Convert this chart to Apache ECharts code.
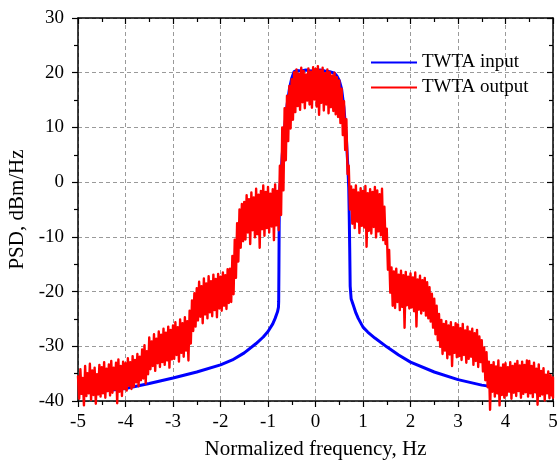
<!DOCTYPE html>
<html>
<head>
<meta charset="utf-8">
<script src="https://cdn.jsdelivr.net/npm/echarts@6/dist/echarts.min.js"></script>
<style>
html,body{margin:0;padding:0;background:#fff;}
#chart{width:558px;height:462px;}
</style>
</head>
<body>
<div id="chart"></div>
<script>
// x tick labels and y tick labels come from axis min/max/interval
const xTicks = [-5, -4, -3, -2, -1, 0, 1, 2, 3, 4, 5];
const yTicks = [-40, -30, -20, -10, 0, 10, 20, 30];

// TWTA input (blue) : frequency (Hz) and PSD (dBm/Hz)
const blueFreq = [-5, -4.5, -4, -3.5, -3, -2.5, -2, -1.75, -1.5, -1.25, -1.1, -1, -0.9, -0.85, -0.8, -0.78, -0.775, -0.77, -0.765, -0.76, -0.75, -0.72, -0.7, -0.65, -0.6, -0.55, -0.5, -0.45, -0.4, -0.3, -0.2, -0.1, 0, 0.1, 0.2, 0.3, 0.4, 0.45, 0.5, 0.55, 0.6, 0.65, 0.68, 0.7, 0.71, 0.72, 0.73, 0.75, 0.8, 0.85, 0.9, 1.0, 1.1, 1.25, 1.5, 1.75, 2, 2.5, 3, 3.5, 4, 4.5, 5];
const bluePSD  = [-38.6, -38.2, -37.7, -36.8, -35.8, -34.7, -33.4, -32.5, -31.2, -29.5, -28.3, -27.3, -25.9, -24.9, -23.7, -22.9, -21.8, -16, -8, -4, -1, 2, 5, 10, 14, 17, 19, 20.2, 20.4, 20.3, 20.5, 20.3, 20.4, 20.5, 20.3, 20.2, 19.9, 19.4, 18.6, 17.0, 13.5, 8.0, 3.0, -1.0, -6, -12, -19, -21.3, -22.6, -23.9, -24.9, -26.5, -27.4, -28.5, -30.1, -31.6, -32.9, -34.7, -36.1, -37.1, -37.7, -38.2, -38.5];

// TWTA output (red): noisy band, upper and lower readings every 0.05 Hz from -5 to 5
const redStart = -5;
const redStep = 0.05;
const redHigh = [
 -35.5,-34.2,-35.8,-33.6,-34.9,-33.2,-34.4,-33.9,-35.1,-33.4,
 -33.8,-32.9,-34.1,-33.3,-32.7,-33.9,-33.0,-32.4,-33.6,-32.8,
 -33.1,-32.2,-32.9,-31.8,-32.5,-31.4,-31.9,-30.6,-29.8,-30.9,
 -28.4,-29.1,-27.8,-28.6,-27.3,-27.9,-26.8,-27.5,-26.4,-27.0,
 -26.2,-25.6,-26.5,-25.1,-25.8,-24.7,-25.4,-23.5,-21.6,-20.3,
 -19.4,-18.2,-19.0,-17.6,-18.5,-17.2,-18.1,-16.9,-17.7,-16.8,
 -17.3,-16.5,-17.0,-15.9,-15.8,-13.5,-10.5,-7.5,-5.0,-4.0,
 -3.6,-2.4,-3.1,-1.9,-2.8,-1.2,-2.3,-1.6,-0.6,-1.8,
 -0.9,-2.1,-1.3,-0.4,-1.6,3.0,10.0,13.5,15.8,17.6,
 18.8,20.1,20.6,19.8,20.9,20.3,19.7,20.8,20.2,21.0,
 20.7,21.2,20.4,20.9,19.9,20.6,20.1,19.5,20.0,19.2,
 18.6,17.1,14.8,11.5,3.0,-0.8,-1.4,-0.6,-1.9,-1.1,
 -1.6,-0.7,-2.0,-1.3,-1.8,-0.9,-1.5,-2.2,-1.2,-4.5,
 -8.5,-12.4,-15.6,-16.3,-15.8,-16.9,-16.2,-17.0,-16.4,-17.3,
 -16.7,-17.4,-16.5,-17.8,-17.1,-17.9,-17.5,-18.3,-19.2,-20.4,
 -21.3,-22.6,-24.1,-25.2,-25.9,-25.4,-26.2,-25.6,-26.5,-25.8,
 -26.0,-26.7,-25.9,-27.1,-26.4,-27.3,-26.8,-27.6,-27.0,-28.2,
 -28.9,-30.2,-31.1,-32.8,-33.4,-32.9,-33.7,-32.6,-33.9,-33.3,
 -33.1,-33.8,-32.9,-33.6,-33.2,-32.7,-33.5,-32.8,-33.4,-32.6,
 -32.7,-33.6,-33.0,-34.1,-33.3,-34.5,-34.0,-35.2,-34.6,-35.3,
 -35.7
];
const redLow = [
 -39.6,-38.7,-40.8,-39.1,-38.6,-39.8,-38.9,-40.5,-38.8,-39.2,
 -38.6,-39.4,-38.2,-39.0,-38.5,-37.9,-40.4,-38.3,-39.1,-37.8,
 -38.1,-37.2,-37.8,-37.4,-36.6,-37.3,-36.2,-35.9,-36.8,-35.1,
 -34.2,-33.6,-34.5,-33.1,-33.8,-32.9,-33.4,-32.6,-33.9,-32.4,
 -32.3,-31.6,-32.8,-31.2,-31.9,-30.8,-32.6,-29.5,-27.2,-26.4,
 -25.3,-24.6,-25.8,-24.2,-24.9,-23.8,-24.5,-23.4,-24.7,-23.1,
 -23.5,-22.6,-23.2,-22.1,-21.9,-20.5,-17.5,-14.5,-12.0,-10.8,
 -10.5,-9.2,-11.3,-8.8,-10.1,-9.5,-12.0,-8.6,-9.8,-8.4,
 -9.2,-8.1,-10.6,-7.9,-8.8,-6.0,-1.5,4.0,7.5,9.8,
 11.4,12.8,13.9,13.2,14.6,13.5,14.9,14.2,13.6,15.1,
 13.8,12.3,14.5,13.1,14.2,12.6,13.7,13.0,12.4,11.9,
 10.8,8.6,5.9,1.5,-5.0,-7.6,-8.4,-7.2,-9.3,-8.0,
 -8.3,-11.8,-8.9,-9.4,-8.2,-10.1,-9.0,-9.7,-10.6,-11.3,
 -16.0,-20.2,-22.6,-23.0,-21.9,-23.4,-22.8,-26.6,-22.5,-23.1,
 -22.9,-23.6,-26.4,-23.3,-24.0,-23.5,-24.4,-24.9,-25.5,-26.6,
 -27.8,-28.9,-30.1,-31.4,-30.8,-32.2,-31.5,-33.6,-31.2,-32.0,
 -31.8,-32.5,-31.6,-33.0,-32.3,-31.9,-33.4,-32.7,-33.8,-32.9,
 -34.6,-36.2,-37.5,-41.6,-38.3,-39.2,-38.6,-40.8,-38.9,-39.4,
 -39.0,-38.3,-39.6,-38.5,-39.1,-38.2,-39.4,-38.7,-38.4,-39.2,
 -38.6,-39.3,-38.4,-40.7,-39.1,-38.8,-39.9,-38.6,-39.5,-39.0,
 -39.4
];

const legendNames = ['TWTA input', 'TWTA output'];
const xTitle = 'Normalized frequency, Hz';
const yTitle = 'PSD, dBm/Hz';

// build tables for the library
const blueData = blueFreq.map((f, i) => [f, bluePSD[i]]);
const redData = [];
for (let i = 0; i < redHigh.length; i++) {
  const f = redStart + i * redStep;
  redData.push([f, redHigh[i]]);
  if (i < redHigh.length - 1) redData.push([f + redStep / 2, redLow[i]]);
  else redData.push([f, redLow[i]]);
}

const FONT = '"Liberation Serif", "Times New Roman", serif';
const xMin = xTicks[0], xMax = xTicks[xTicks.length - 1];
const yMin = yTicks[0], yMax = yTicks[yTicks.length - 1];

function xAxisCfg(pos, main) {
  return {
    type: 'value', position: pos, min: xMin, max: xMax, interval: 1,
    name: main ? xTitle : '', nameLocation: 'middle', nameGap: 38,
    nameTextStyle: {fontFamily: FONT, fontSize: 21, color: '#000'},
    axisLine: {show: true, onZero: false, lineStyle: {color: '#000', width: 1.5}},
    axisTick: {show: true, inside: !main, length: 6, lineStyle: {color: '#000', width: 1.2}},
    minorTick: {show: true, splitNumber: 2, length: 4, lineStyle: {color: '#000', width: 1.2}},
    axisLabel: {show: main, fontFamily: FONT, fontSize: 19, color: '#000', margin: 12, showMinLabel: true, showMaxLabel: true,
      formatter: v => String(v)},
    splitLine: {show: main, lineStyle: {color: '#9a9a9a', type: [4, 3], width: 1}},
    minorSplitLine: {show: false}
  };
}
function yAxisCfg(pos, main) {
  return {
    type: 'value', position: pos, min: yMin, max: yMax, interval: 10,
    name: main ? yTitle : '', nameLocation: 'middle', nameGap: 46, nameRotate: 90,
    nameTextStyle: {fontFamily: FONT, fontSize: 21, color: '#000'},
    axisLine: {show: true, onZero: false, lineStyle: {color: '#000', width: 1.5}},
    axisTick: {show: true, inside: !main, length: 6, lineStyle: {color: '#000', width: 1.2}},
    minorTick: {show: true, splitNumber: 2, length: 4, lineStyle: {color: '#000', width: 1.2}},
    axisLabel: {show: main, fontFamily: FONT, fontSize: 19, color: '#000', margin: 14, showMinLabel: true, showMaxLabel: true,
      formatter: v => String(v)},
    splitLine: {show: main, lineStyle: {color: '#9a9a9a', type: [4, 3], width: 1}},
    minorSplitLine: {show: false}
  };
}

const chart = echarts.init(document.getElementById('chart'), null, {renderer: 'canvas'});
chart.setOption({
  animation: false,
  backgroundColor: '#fff',
  grid: {left: 78, right: 5, top: 18, bottom: 61, containLabel: false, outerBoundsMode: 'none'},
  legend: {
    data: legendNames, orient: 'vertical', left: 366, top: 48,
    itemWidth: 46, itemHeight: 14, itemGap: 6,
    icon: 'path://M0,6 L46,6 L46,8 L0,8 Z',
    textStyle: {fontFamily: FONT, fontSize: 19, color: '#000'},
    selectedMode: false
  },
  xAxis: [xAxisCfg('bottom', true), xAxisCfg('top', false)],
  yAxis: [yAxisCfg('left', true), yAxisCfg('right', false)],
  series: [
    {name: legendNames[0], type: 'line', xAxisIndex: 0, yAxisIndex: 0, data: blueData,
     showSymbol: false, symbol: 'none', clip: false, color: '#0000ff',
     lineStyle: {color: '#0000ff', width: 3}, itemStyle: {color: '#0000ff'}, z: 2},
    {name: legendNames[1], type: 'line', xAxisIndex: 0, yAxisIndex: 0, data: redData,
     showSymbol: false, symbol: 'none', clip: false, color: '#ff0000', sampling: 'none',
     lineStyle: {color: '#ff0000', width: 2.4, join: 'round', cap: 'round'}, itemStyle: {color: '#ff0000'}, z: 3}
  ]
});
</script>
</body>
</html>
